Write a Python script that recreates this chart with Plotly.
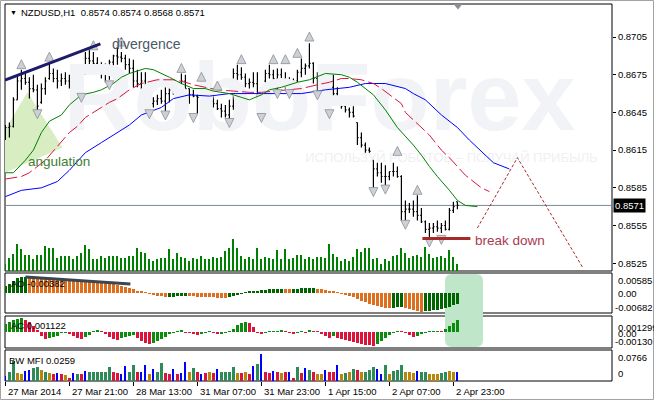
import plotly.graph_objects as go

# ---------------- data ----------------
time_labels = ["27 Mar 2014", "27 Mar 21:00", "28 Mar 13:00", "31 Mar 07:00",
               "31 Mar 23:00", "1 Apr 15:00", "2 Apr 07:00", "2 Apr 23:00"]
time_label_idx = [0, 16, 32, 48, 64, 80, 96, 112]

opens = [0.8628, 0.8633, 0.8634, 0.8655, 0.8670, 0.8672, 0.8669, 0.8664, 0.8663, 0.8653,
         0.8664, 0.8672, 0.8676, 0.8672, 0.8670, 0.8672, 0.8670, 0.8672, 0.8668, 0.8665,
         0.8677, 0.8688, 0.8686, 0.8684, 0.8680, 0.8676, 0.8680, 0.8685, 0.8690, 0.8689,
         0.8688, 0.8683, 0.8680, 0.8670, 0.8668, 0.8670, 0.8653, 0.8652, 0.8654, 0.8656,
         0.8654, 0.8660, 0.8663, 0.8664, 0.8667, 0.8670, 0.8664, 0.8659, 0.8658, 0.8657,
         0.8660, 0.8656, 0.8654, 0.8652, 0.8648, 0.8646, 0.8643, 0.8650, 0.8676, 0.8675,
         0.8673, 0.8668, 0.8669, 0.8668, 0.8652, 0.8670, 0.8676, 0.8675, 0.8672, 0.8675,
         0.8672, 0.8668, 0.8669, 0.8670, 0.8677, 0.8680, 0.8682, 0.8684, 0.8672, 0.8668,
         0.8670, 0.8668, 0.8665, 0.8660, 0.8654, 0.8650, 0.8647, 0.8645, 0.8637, 0.8625,
         0.8619, 0.8615, 0.8607, 0.8600, 0.8597, 0.8594, 0.8594, 0.8598, 0.8598, 0.8594,
         0.8566, 0.8568, 0.8568, 0.8566, 0.8563, 0.8558, 0.8552, 0.8553, 0.8554, 0.8553,
         0.8555, 0.8552, 0.8567, 0.8574]
highs = [0.8635, 0.8637, 0.8657, 0.8675, 0.8679, 0.8677, 0.8673, 0.8675, 0.8667, 0.8668,
         0.8673, 0.8684, 0.8680, 0.8679, 0.8676, 0.8677, 0.8675, 0.8677, 0.8673, 0.8671,
         0.8693, 0.8695, 0.8693, 0.8689, 0.8685, 0.8684, 0.8687, 0.8691, 0.8697, 0.8693,
         0.8691, 0.8688, 0.8687, 0.8679, 0.8677, 0.8677, 0.8655, 0.8657, 0.8659, 0.8663,
         0.8665, 0.8665, 0.8671, 0.8669, 0.8676, 0.8675, 0.8664, 0.8663, 0.8659, 0.8665,
         0.8664, 0.8660, 0.8661, 0.8655, 0.8652, 0.8651, 0.8655, 0.8680, 0.8683, 0.8681,
         0.8676, 0.8672, 0.8677, 0.8677, 0.8665, 0.8679, 0.8683, 0.8679, 0.8680, 0.8680,
         0.8677, 0.8673, 0.8672, 0.8679, 0.8688, 0.8684, 0.8700, 0.8685, 0.8677, 0.8675,
         0.8676, 0.8673, 0.8675, 0.8665, 0.8655, 0.8651, 0.8649, 0.8650, 0.8637, 0.8629,
         0.8621, 0.8617, 0.8607, 0.8605, 0.8605, 0.8603, 0.8598, 0.8605, 0.8602, 0.8595,
         0.8575, 0.8573, 0.8575, 0.8579, 0.8569, 0.8559, 0.8557, 0.8557, 0.8559, 0.8557,
         0.8559, 0.8569, 0.8574, 0.8574]
lows = [0.8623, 0.8625, 0.8633, 0.8655, 0.8663, 0.8667, 0.8656, 0.8661, 0.8647, 0.8652,
        0.8659, 0.8671, 0.8669, 0.8664, 0.8666, 0.8667, 0.8664, 0.8667, 0.8663, 0.8659,
        0.8675, 0.8680, 0.8681, 0.8677, 0.8672, 0.8669, 0.8671, 0.8675, 0.8683, 0.8685,
        0.8679, 0.8676, 0.8665, 0.8665, 0.8663, 0.8652, 0.8648, 0.8649, 0.8651, 0.8652,
        0.8645, 0.8653, 0.8659, 0.8657, 0.8665, 0.8663, 0.8652, 0.8657, 0.8644, 0.8655,
        0.8653, 0.8648, 0.8649, 0.8647, 0.8641, 0.8641, 0.8639, 0.8647, 0.8669, 0.8671,
        0.8665, 0.8664, 0.8665, 0.8648, 0.8644, 0.8669, 0.8672, 0.8668, 0.8663, 0.8669,
        0.8664, 0.8661, 0.8667, 0.8669, 0.8673, 0.8675, 0.8680, 0.8668, 0.8661, 0.8665,
        0.8665, 0.8647, 0.8657, 0.8652, 0.8648, 0.8645, 0.8641, 0.8641, 0.8619, 0.8617,
        0.8613, 0.8613, 0.8585, 0.8594, 0.8589, 0.8586, 0.8591, 0.8594, 0.8593, 0.8559,
        0.8558, 0.8565, 0.8562, 0.8559, 0.8557, 0.8549, 0.8545, 0.8549, 0.8550, 0.8549,
        0.8551, 0.8551, 0.8565, 0.8568]
closes = [0.8633, 0.8634, 0.8655, 0.8670, 0.8672, 0.8669, 0.8664, 0.8663, 0.8650, 0.8664,
          0.8670, 0.8676, 0.8672, 0.8670, 0.8672, 0.8670, 0.8672, 0.8668, 0.8665, 0.8670,
          0.8688, 0.8686, 0.8684, 0.8680, 0.8676, 0.8680, 0.8685, 0.8690, 0.8689, 0.8688,
          0.8683, 0.8680, 0.8670, 0.8668, 0.8670, 0.8653, 0.8652, 0.8654, 0.8656, 0.8654,
          0.8660, 0.8663, 0.8664, 0.8667, 0.8670, 0.8664, 0.8659, 0.8658, 0.8657, 0.8660,
          0.8656, 0.8654, 0.8652, 0.8648, 0.8646, 0.8643, 0.8650, 0.8676, 0.8675, 0.8673,
          0.8668, 0.8669, 0.8668, 0.8652, 0.8662, 0.8676, 0.8675, 0.8672, 0.8675, 0.8672,
          0.8668, 0.8669, 0.8670, 0.8677, 0.8680, 0.8682, 0.8684, 0.8672, 0.8668, 0.8670,
          0.8668, 0.8665, 0.8660, 0.8654, 0.8650, 0.8647, 0.8645, 0.8642, 0.8625, 0.8619,
          0.8615, 0.8614, 0.8600, 0.8597, 0.8594, 0.8594, 0.8598, 0.8598, 0.8594, 0.8566,
          0.8568, 0.8568, 0.8566, 0.8563, 0.8558, 0.8552, 0.8553, 0.8554, 0.8553, 0.8555,
          0.8552, 0.8567, 0.8570, 0.8571]

tick_volume = [700, 1300, 1700, 2700, 2200, 1600, 1600, 1200, 1600, 1600,
               2500, 2300, 2300, 1300, 1500, 1500, 1500, 1200, 1500, 1800,
               2600, 2200, 1200, 1200, 1500, 1300, 1500, 1500, 1500, 1300,
               1300, 1500, 1500, 2300, 1900, 1800, 1200, 1000, 1200, 1300,
               1300, 2200, 1200, 1800, 1400, 1300, 1000, 1300, 1200, 1500,
               1200, 1200, 1400, 1300, 1400, 2000, 2300, 3200, 2300, 1500,
               1200, 1400, 1200, 2300, 1200, 1400, 1300, 1200, 2100, 1200,
               2200, 1200, 1300, 1600, 1600, 1200, 1400, 1200, 1400, 1400,
               1300, 2700, 1700, 1400, 1000, 1200, 1000, 1400, 2200, 1900,
               2300, 2300, 1200, 1300, 700, 1200, 1000, 1500, 1600, 2300,
               1800, 1300, 1500, 1600, 1400, 2400, 1700, 1300, 1400, 1500,
               1300, 2100, 1400, 700]

# Alligator-style lines (bar index, price), shifted ahead of the last bar
jaw_idx = [0, 4, 9, 13, 16, 20, 24, 28, 31, 34, 39, 42, 46, 51, 56, 64, 74, 80, 86, 90,
           95, 100, 102, 105, 109, 113, 116, 122, 126]
jaw_val = [0.8578, 0.8583, 0.8585, 0.8590, 0.8599, 0.8613, 0.8621, 0.8629, 0.8635, 0.8643,
           0.8649, 0.8656, 0.8659, 0.8658, 0.8660, 0.8660, 0.8660, 0.8663, 0.8665, 0.8668,
           0.8668, 0.8664, 0.8660, 0.8655, 0.8643, 0.8633, 0.8623, 0.8605, 0.8600]
teeth_idx = [0, 4, 6, 10, 13, 16, 18, 20, 24, 26, 28, 31, 34, 38, 42, 45, 47, 50, 53, 57,
             61, 64, 67, 70, 74, 78, 81, 84, 86, 89, 92, 94, 99, 100, 102, 104, 106, 109,
             111, 115, 117, 119, 121]
teeth_val = [0.8592, 0.8594, 0.8597, 0.8607, 0.8618, 0.8629, 0.8634, 0.8641, 0.8649, 0.8653,
             0.8656, 0.8663, 0.8668, 0.8671, 0.8671, 0.8669, 0.8667, 0.8665, 0.8663, 0.8662,
             0.8661, 0.8661, 0.8662, 0.8663, 0.8664, 0.8667, 0.8669, 0.8672, 0.8672, 0.8671,
             0.8668, 0.8664, 0.8652, 0.8645, 0.8639, 0.8633, 0.8627, 0.8615, 0.8609, 0.8595,
             0.8590, 0.8585, 0.8582]
lips_idx = [0, 2, 5, 7, 9, 11, 14, 16, 19, 22, 24, 27, 29, 31, 35, 37, 41, 44, 47, 50,
            52, 56, 59, 61, 64, 66, 69, 73, 76, 80, 84, 86, 88, 92, 95, 98, 102, 104, 106,
            108, 111, 113, 115, 118]
lips_val = [0.8597, 0.8597, 0.8607, 0.8615, 0.8629, 0.8638, 0.8643, 0.8651, 0.8659, 0.8661,
            0.8663, 0.8668, 0.8673, 0.8676, 0.8680, 0.8679, 0.8673, 0.8668, 0.8664, 0.8664,
            0.8662, 0.8660, 0.8657, 0.8655, 0.8659, 0.8663, 0.8665, 0.8669, 0.8671, 0.8676,
            0.8675, 0.8673, 0.8669, 0.8659, 0.8647, 0.8633, 0.8619, 0.8611, 0.8602, 0.8594,
            0.8583, 0.8575, 0.8571, 0.8570]

# Fractals (bar index, fractal price)
fractal_up_idx = [4, 11, 22, 29, 44, 49, 53, 59, 67, 70, 73, 76, 98, 103]
fractal_up_price = [0.8679, 0.8685, 0.8694, 0.8697, 0.8676, 0.8669, 0.8662, 0.8683, 0.8683,
                    0.8683, 0.8688, 0.8701, 0.8610, 0.8579]
fractal_dn_idx = [8, 19, 26, 36, 40, 47, 56, 64, 68, 71, 78, 81, 92, 95, 100, 106, 109]
fractal_dn_price = [0.8648, 0.8661, 0.8671, 0.8648, 0.8647, 0.8645, 0.8641, 0.8645, 0.8664,
                    0.8664, 0.8663, 0.8648, 0.8586, 0.8588, 0.8560, 0.8546, 0.8548]

ao_values = [0.0027, 0.0032, 0.0045, 0.0054, 0.0056, 0.00585, 0.0058, 0.0057, 0.0056, 0.0055,
             0.0054, 0.0053, 0.0052, 0.0051, 0.0050, 0.0049, 0.0048, 0.0047, 0.0046, 0.0045,
             0.0043, 0.0042, 0.0040, 0.0038, 0.0037, 0.0036, 0.0034, 0.0032, 0.0029, 0.0027,
             0.0022, 0.0018, 0.0013, 0.0009, 0.0004, 0.0002, -0.0002, -0.0005, -0.0009, -0.0012,
             -0.0015, -0.0014, -0.0013, -0.0012, -0.0011, -0.0010, -0.0011, -0.0012, -0.0013, -0.0014,
             -0.0015, -0.00155, -0.0016, -0.00165, -0.0017, -0.00175, -0.0015, -0.0012, -0.0007, -0.0003,
             0.0003, 0.0006, 0.0008, 0.0009, 0.0011, 0.0012, 0.0013, 0.0014, 0.0015, 0.0016,
             0.00155, 0.0015, 0.00155, 0.0016, 0.00165, 0.0017, 0.00175, 0.0018, 0.0016, 0.0014,
             0.0011, 0.0007, 0.0004, 0.0001, -0.0002, -0.0005, -0.0010, -0.0015, -0.0020, -0.0027,
             -0.0034, -0.0039, -0.0044, -0.0048, -0.0051, -0.0053, -0.0054, -0.0053, -0.0052, -0.0051,
             -0.0055, -0.0058, -0.0062, -0.0065, -0.00682, -0.0066, -0.0064, -0.0062, -0.0060, -0.0057,
             -0.0054, -0.0050, -0.0044, -0.00382]

ac_values = [0.00074, 0.00093, 0.00111, 0.00121, 0.001299, 0.00111, 0.00093, 0.00056, 0.00019, -0.00037,
             -0.00065, -0.00056, -0.00046, -0.00037, -0.00009, -0.00005, -0.00019, -0.00037, -0.00056, -0.00065,
             -0.00046, -0.00028, 0.00005, 0.00014, 0.00009, -0.00019, -0.00046, -0.00065, -0.00074, -0.00056,
             -0.00046, -0.00037, -0.00028, -0.00056, -0.00084, -0.00102, -0.00111, -0.00102, -0.00084, -0.00065,
             -0.00046, -0.00019, -0.00009, 0.00009, 0.00023, -0.00005, -0.00009, -0.00019, -0.00028, -0.00019,
             -0.00009, 0.00005, -0.00005, -0.00019, -0.00014, -0.00005, 0.00005, 0.00028, 0.00065, 0.00084,
             0.00093, 0.00084, 0.00046, -0.00009, -0.00019, -0.00009, 0.00002, 0.00005, 0.00009, 0.00019,
             0.00005, -0.00009, -0.00014, -0.00009, 0.00005, -0.00005, 0.00014, 0.00009, 0.00005, -0.00019,
             -0.00037, -0.00056, -0.00037, -0.00056, -0.00065, -0.00074, -0.00084, -0.00093, -0.00102, -0.00111,
             -0.00121, -0.00125, -0.00130, -0.00111, -0.00084, -0.00056, -0.00028, -0.00009, 0.00005, 0.00003,
             -0.00009, -0.00028, -0.00046, -0.00037, -0.00019, -0.00009, 0.00001, 0.00005, 0.00007, 0.00005,
             0.00028, 0.00056, 0.00084, 0.001122]

mfi_values = [0.0142, 0.0256, 0.0568, 0.0227, 0.0199, 0.0284, 0.0312, 0.0369, 0.0398, 0.0312,
              0.0256, 0.0227, 0.0199, 0.0227, 0.0199, 0.0170, 0.0085, 0.0227, 0.0199, 0.0199,
              0.0284, 0.0256, 0.0256, 0.0256, 0.0256, 0.0256, 0.0398, 0.0256, 0.0227, 0.0199,
              0.0426, 0.0256, 0.0454, 0.0256, 0.0256, 0.0454, 0.0199, 0.0341, 0.0256, 0.0511,
              0.0227, 0.0199, 0.0341, 0.0199, 0.0227, 0.0540, 0.0256, 0.0369, 0.0256, 0.0199,
              0.0227, 0.0256, 0.0227, 0.0341, 0.0256, 0.0256, 0.0256, 0.0398, 0.0227, 0.0227,
              0.0256, 0.0199, 0.0426, 0.0483, 0.0766, 0.0256, 0.0227, 0.0284, 0.0256, 0.0227,
              0.0256, 0.0256, 0.0085, 0.0398, 0.0227, 0.0369, 0.0312, 0.0256, 0.0199, 0.0199,
              0.0312, 0.0256, 0.0256, 0.0454, 0.0199, 0.0227, 0.0256, 0.0341, 0.0312, 0.0256,
              0.0256, 0.0312, 0.0398, 0.0341, 0.0199, 0.0454, 0.0199, 0.0284, 0.0312, 0.0454,
              0.0256, 0.0256, 0.0227, 0.0284, 0.0256, 0.0256, 0.0199, 0.0199, 0.0199, 0.0227,
              0.0256, 0.0284, 0.0256, 0.0259]
mfi_state = ["B", "G", "G", "Br", "Br", "B", "B", "G", "G", "Br",
             "G", "Br", "R", "B", "R", "Br", "R", "B", "G", "R",
             "B", "G", "G", "G", "G", "G", "G", "R", "R", "B",
             "B", "G", "G", "R", "B", "B", "Br", "B", "G", "G",
             "R", "R", "B", "R", "B", "B", "Br", "G", "R", "B",
             "R", "Br", "R", "B", "G", "G", "G", "G", "Br", "R",
             "Br", "R", "B", "G", "B", "R", "R", "B", "R", "Br",
             "R", "B", "R", "G", "R", "B", "G", "R", "Br", "Br",
             "B", "R", "R", "B", "Br", "G", "Br", "G", "R", "Br",
             "G", "G", "G", "B", "B", "G", "Br", "G", "G", "G",
             "Br", "Br", "Br", "B", "G", "G", "Br", "Br", "Br", "G",
             "G", "Br", "Br", "B"]

price_ticks = [0.8705, 0.8675, 0.8645, 0.8615, 0.8585, 0.8555, 0.8525]

# ---------------- geometry helpers (layout only) ----------------
L, R, T, B = 5, 612, 4, 381
def px(xp):
    return (xp - L) / (R - L)
def py(yp):
    return (B - yp) / (B - T)

dom_main = [py(271), 1.0]
dom_ao = [py(313), py(273)]
dom_ac = [py(348), py(316)]
dom_mfi = [0.0, py(350)]

FONT = "Liberation Sans, Arial, sans-serif"
n = len(closes)
idx = list(range(n))

fig = go.Figure()

# watermark (drawn first -> behind everything)
fig.add_trace(go.Scatter(x=[78.5], y=[0.8650], mode="text", text=["RoboForex"],
                         textfont=dict(family=FONT, size=97, color="#f1f3f6", weight="bold"),
                         hoverinfo="skip", showlegend=False, xaxis="x", yaxis="y"))
fig.add_trace(go.Scatter(x=[111.5], y=[0.8608], mode="text",
                         text=["ИСПОЛЬЗУЙ РОБОТОВ – ПОЛУЧАЙ ПРИБЫЛЬ"],
                         textfont=dict(family=FONT, size=13, color="#eef0f3"),
                         hoverinfo="skip", showlegend=False, xaxis="x", yaxis="y"))

# tick volume
fig.add_trace(go.Bar(x=idx, y=tick_volume, width=0.3, marker=dict(color="#008000", line=dict(width=0)),
                     xaxis="x", yaxis="y5", showlegend=False, hoverinfo="skip"))

# alligator lines
fig.add_trace(go.Scatter(x=jaw_idx, y=jaw_val, mode="lines", line=dict(color="#0000ff", width=1),
                         xaxis="x", yaxis="y", showlegend=False, hoverinfo="skip"))
fig.add_trace(go.Scatter(x=teeth_idx, y=teeth_val, mode="lines",
                         line=dict(color="#dc143c", width=1, dash="12px,4px"),
                         xaxis="x", yaxis="y", showlegend=False, hoverinfo="skip"))
fig.add_trace(go.Scatter(x=lips_idx, y=lips_val, mode="lines", line=dict(color="#008000", width=1),
                         xaxis="x", yaxis="y", showlegend=False, hoverinfo="skip"))

# price bars
fig.add_trace(go.Ohlc(x=idx, open=opens, high=highs, low=lows, close=closes,
                      increasing=dict(line=dict(color="black", width=1.2)),
                      decreasing=dict(line=dict(color="black", width=1.2)),
                      tickwidth=0.3, xaxis="x", yaxis="y", showlegend=False, hoverinfo="skip"))

# fractals
frac_off = 0.0008
fig.add_trace(go.Scatter(x=fractal_up_idx, y=[p + frac_off for p in fractal_up_price], mode="markers",
                         marker=dict(symbol="arrow-up", size=9, color="#cdd1d6",
                                     line=dict(color="#8b9096", width=0.8)),
                         xaxis="x", yaxis="y", showlegend=False, hoverinfo="skip"))
fig.add_trace(go.Scatter(x=fractal_dn_idx, y=[p - frac_off for p in fractal_dn_price], mode="markers",
                         marker=dict(symbol="arrow-down", size=9, color="#cdd1d6",
                                     line=dict(color="#8b9096", width=0.8)),
                         xaxis="x", yaxis="y", showlegend=False, hoverinfo="skip"))

# AO
ao_colors = ["#006400" if (i == 0 or ao_values[i] > ao_values[i - 1]) else "#dd6f1f" for i in idx]
fig.add_trace(go.Bar(x=idx, y=ao_values, width=0.72, marker=dict(color=ao_colors, line=dict(width=0)),
                     xaxis="x", yaxis="y2", showlegend=False, hoverinfo="skip"))
# AC
ac_colors = ["#0c8c0c" if (i == 0 or ac_values[i] > ac_values[i - 1]) else "#dc143c" for i in idx]
fig.add_trace(go.Bar(x=idx, y=ac_values, width=0.72, marker=dict(color=ac_colors, line=dict(width=0)),
                     xaxis="x", yaxis="y3", showlegend=False, hoverinfo="skip"))
# BW MFI
mfi_cmap = {"G": "#2e8b57", "Br": "#b8860b", "R": "#dc143c", "B": "#0000ff"}
thick_x = [i for i in idx if mfi_state[i] != "B"]
thin_x = [i for i in idx if mfi_state[i] == "B"]
fig.add_trace(go.Bar(x=thick_x, y=[mfi_values[i] for i in thick_x], width=0.72,
                     marker=dict(color=[mfi_cmap[mfi_state[i]] for i in thick_x], line=dict(width=0)),
                     xaxis="x", yaxis="y4", showlegend=False, hoverinfo="skip"))
fig.add_trace(go.Bar(x=thin_x, y=[mfi_values[i] for i in thin_x], width=0.25,
                     marker=dict(color=mfi_cmap["B"], line=dict(width=0)),
                     xaxis="x", yaxis="y4", showlegend=False, hoverinfo="skip"))

# ---------------- shapes ----------------
shapes = []
for d in (dom_main, dom_ao, dom_ac, dom_mfi):
    shapes.append(dict(type="rect", xref="paper", yref="paper", x0=0, x1=1, y0=d[0], y1=d[1],
                       line=dict(color="black", width=1), fillcolor="rgba(0,0,0,0)", layer="below"))
# green highlight across AO/AC
rx0, rx1, ry0, ry1, rr = 445, 483, 274, 347, 7
path = (f"M {px(rx0+rr)},{py(ry0)} L {px(rx1-rr)},{py(ry0)} Q {px(rx1)},{py(ry0)} {px(rx1)},{py(ry0+rr)} "
        f"L {px(rx1)},{py(ry1-rr)} Q {px(rx1)},{py(ry1)} {px(rx1-rr)},{py(ry1)} "
        f"L {px(rx0+rr)},{py(ry1)} Q {px(rx0)},{py(ry1)} {px(rx0)},{py(ry1-rr)} "
        f"L {px(rx0)},{py(ry0+rr)} Q {px(rx0)},{py(ry0)} {px(rx0+rr)},{py(ry0)} Z")
shapes.append(dict(type="path", xref="paper", yref="paper", path=path,
                   fillcolor="#bfe6c9", line=dict(width=0), layer="below"))
# angulation triangle
shapes.append(dict(type="path", xref="x", yref="y",
                   path="M -0.1,0.8631 L 5.5,0.8661 L 14.25,0.8617 L -0.1,0.8597 Z",
                   fillcolor="#d9edc3", line=dict(width=0), layer="below"))
# current price line
shapes.append(dict(type="line", xref="paper", yref="y", x0=0, x1=1, y0=closes[-1], y1=closes[-1],
                   line=dict(color="#7a8896", width=1), layer="below"))
# divergence line
shapes.append(dict(type="line", xref="x", yref="y", x0=-0.1, y0=0.86708, x1=23.75, y1=0.86995,
                   line=dict(color="#1c1c6b", width=3)))
# AO divergence line
shapes.append(dict(type="line", xref="x", yref="y2", x0=5, y0=0.0058, x1=31.25, y1=0.0032,
                   line=dict(color="#3a4650", width=3)))
# break down level
shapes.append(dict(type="line", xref="x", yref="y", x0=104.25, y0=0.85447, x1=116.25, y1=0.85447,
                   line=dict(color="#a52a2a", width=3)))
# forecast dashed path
shapes.append(dict(type="path", xref="x", yref="y",
                   path="M 118,0.8553 L 128,0.8609 L 144.25,0.8522",
                   line=dict(color="#a52a2a", width=1, dash="3px,2px")))
# small shift marker on top
shapes.append(dict(type="path", xref="paper", yref="paper",
                   path=f"M {px(453.5)},{py(4)} L {px(462.5)},{py(4)} L {px(458)},{py(9.5)} Z",
                   fillcolor="#8a909a", line=dict(width=0)))
# window frame
shapes.append(dict(type="rect", xref="paper", yref="paper", x0=px(0.5), x1=px(653.5),
                   y0=py(399.5), y1=py(0.5), line=dict(color="#a3a3a3", width=1),
                   fillcolor="rgba(0,0,0,0)"))

# ---------------- annotations ----------------
ann = []
def text_at(x, y, s, size=9.5, color="black", xanchor="left", **kw):
    ann.append(dict(x=px(x), y=py(y), xref="paper", yref="paper", text=s, showarrow=False,
                    xanchor=xanchor, yanchor="middle", font=dict(family=FONT, size=size, color=color), **kw))

text_at(8, 12.5, "▼", size=7)
text_at(19, 13, "NZDUSD,H1  0.8574 0.8574 0.8568 0.8571")
text_at(110, 44, "divergence", size=14, color="#4b5866")
text_at(26, 161, "angulation", size=13.5, color="#3c8032")
text_at(473, 240, "break down", size=13.5, color="#a83a50")
text_at(9, 283, "AO -0.00382")
text_at(9, 325, "AC 0.001122")
text_at(7, 360, "BW MFI 0.0259")
# indicator scale labels
text_at(616, 280, "0.00585")
text_at(616, 293, "0.00")
text_at(612.5, 307.5, "-0.00682")
text_at(616, 327, "0.001299")
text_at(616, 333, "0.00")
text_at(612.5, 341.5, "-0.00130")
text_at(616, 357, "0.0766")
text_at(616, 373, "0")
# current price box
ann.append(dict(x=px(613), y=closes[-1], xref="paper", yref="y", text="%.4f" % closes[-1],
                showarrow=False, xanchor="left", yanchor="middle", bgcolor="black",
                borderpad=1, font=dict(family=FONT, size=9.5, color="white")))
# time labels
for i, lab in zip(time_label_idx, time_labels):
    ann.append(dict(x=i, y=py(391), xref="x", yref="paper", text=lab, showarrow=False,
                    xanchor="left", yanchor="middle", xshift=1,
                    font=dict(family=FONT, size=9.5, color="black")))

fig.update_layout(
    width=654, height=400,
    margin=dict(l=L, r=654 - R, t=T, b=400 - B),
    paper_bgcolor="white", plot_bgcolor="rgba(0,0,0,0)",
    showlegend=False, bargap=0,
    font=dict(family=FONT, size=9.5, color="black"),
    xaxis=dict(domain=[0, 1], anchor="y4", range=[-0.1, 151.65], showgrid=False, zeroline=False,
               showline=False, tickmode="array", tickvals=time_label_idx, ticks="outside",
               ticklen=4, tickcolor="black", showticklabels=False, rangeslider=dict(visible=False),
               fixedrange=True),
    yaxis=dict(domain=dom_main, anchor="x", side="right", range=[0.85188, 0.87313],
               tickmode="array", tickvals=price_ticks, ticktext=["%.4f" % v for v in price_ticks],
               ticks="outside", ticklen=3, tickcolor="black", showgrid=False, zeroline=False,
               showline=False, tickfont=dict(family=FONT, size=9.5, color="black")),
    yaxis2=dict(domain=dom_ao, anchor="x", range=[-0.0072, 0.0072], showticklabels=False,
                ticks="", showgrid=False, zeroline=False, showline=False),
    yaxis3=dict(domain=dom_ac, anchor="x", range=[-0.0015, 0.0015], showticklabels=False,
                ticks="", showgrid=False, zeroline=False, showline=False),
    yaxis4=dict(domain=dom_mfi, anchor="x", range=[0, 0.088], showticklabels=False,
                ticks="", showgrid=False, zeroline=False, showline=False),
    yaxis5=dict(overlaying="y", anchor="x", range=[0, 26700], visible=False,
                showgrid=False, zeroline=False),
    shapes=shapes, annotations=ann,
)

fig.write_html("out.html", config={"displayModeBar": False},
               post_script="document.body.style.margin='0';document.body.style.padding='0';"
                           "document.documentElement.style.overflow='hidden';")
